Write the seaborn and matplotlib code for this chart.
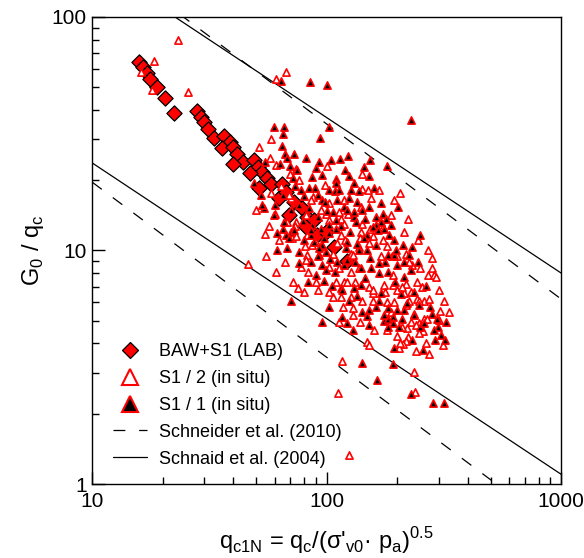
"""
G0/qc versus normalised cone resistance qc1N (log-log),
lab data, in situ data and two literature correlations.
"""

import matplotlib
matplotlib.use("Agg")
import matplotlib.pyplot as plt
from matplotlib.lines import Line2D
import seaborn as sns

# BAW+S1 (LAB)
lab_x = [15.8, 16.4, 17.1, 17.7, 18.8, 20.4, 22.4, 27.9, 29.0, 30.1, 31.3, 33.2, 36.6,
         38.5, 35.6, 40.0, 41.6, 44.1, 39.7, 49.1, 51.1, 53.2, 47.2, 55.4, 58.1, 64.7,
         51.6, 62.8, 67.3, 72.8, 69.2, 78.7, 82.6, 88.5, 81.8, 91.2, 99.5, 107.7, 122]
lab_y = [64.2, 61.1, 57.6, 54.2, 50.1, 45.0, 38.8, 39.6, 37.3, 35.5, 33.2, 30.3, 30.9,
         29.1, 27.5, 27.7, 25.9, 23.9, 23.5, 24.4, 22.8, 21.7, 21.5, 20.4, 19.3, 19.3,
         18.5, 16.8, 17.8, 16.1, 14.2, 15.2, 13.9, 13.5, 12.6, 11.6, 12.0, 10.4, 9.0]

# S1 / 2 (in situ)
s12_x = [23.3, 18.3, 16.1, 17.9, 25.5, 67, 61, 58, 51.6, 57, 74, 61, 100, 70, 142,
         54.6, 74, 71, 74, 81, 55, 86.6, 82.6, 77.6, 83.4, 46.3, 60.8, 72, 75.6, 90,
         155, 222, 115, 188, 153, 140, 173, 137, 217, 232, 251, 282, 269, 287, 191,
         127, 119, 152, 176, 191, 217, 243, 255, 214, 200, 243, 260, 273, 181, 115,
         142, 142, 113, 115, 127, 113, 129, 129, 217, 220, 228, 248, 241, 260, 267,
         258, 248, 304, 222, 217, 211, 203, 264, 149, 152, 241, 116, 236, 239, 112,
         125, 205, 293, 210, 224, 188, 236, 301, 210, 205, 117, 127, 106, 158, 158,
         110, 132, 102, 81.6, 60, 68, 90, 111, 106, 129, 152, 171, 189, 173, 142,
         123, 102, 87, 98, 140, 119, 99.5, 81.6, 70.5, 58,
         76.3, 85.9, 94.8, 73.4, 82.6, 94.8, 102.5, 120, 138.5, 158, 180, 199, 224,
         137, 122, 158, 178, 194, 228, 248, 301, 316, 332, 313, 273, 199, 180, 159,
         139, 113, 102.5, 91.5, 80.2, 66.6, 62.8, 56.9, 50, 64, 69.2, 119, 150, 167,
         194, 214, 245, 269, 280]
s12_y = [80, 65, 58, 48.7, 47.7, 58, 54, 30, 27.8, 25, 22.3, 23.2, 23, 21.3, 21.3,
         11.8, 13.3, 11.3, 11.5, 10.5, 9.5, 10.6, 9.6, 8.5, 8.1, 8.75, 8.1, 7.35, 6.9, 7.35,
         16.8, 13.6, 13.7, 14.2, 12.4, 12, 11.1, 10.4, 9.7, 8.7, 8.4, 8.4, 7.85, 7.85, 7.85,
         8.1, 7.35, 7.0, 7.1, 7.1, 7.2, 7.35, 7.0, 6.55, 6.8, 6.2, 6.1, 6.2, 6.0, 6.35,
         6.1, 18.4, 14.6, 11.7, 9.7, 8.4, 5.65, 5.3, 5.85, 4.65, 4.95, 4.9, 4.8, 5.1, 5.1,
         4.5, 4.45, 5.5, 4.27, 4.1, 3.96, 3.83, 4.0, 4.05, 3.95, 3.7, 3.37, 3.03, 2.48, 2.45,
         1.33, 17.6, 7.7, 7.0, 6.05, 5.47, 5.37, 5.04, 4.7, 4.0, 5.7, 6.35, 6.3, 6.1, 6.6,
         7.35, 7.35, 8.5, 9.1, 14.4, 13.3, 10.9, 10.75, 9.7, 9.55, 10.75, 9.45, 9.45, 12.6, 13,
         14.4, 15.9, 17, 19.1, 15.4, 13, 14.4, 14.2, 16.7, 17.6,
         20.0, 16.4, 14.9, 12.7, 11.6, 10.45, 13.5, 11.1, 11.3, 11.55, 10.45, 9.5, 8.9,
         8.4, 7.35, 6.8, 6.65, 6.0, 6.65, 6.1, 6.8, 6.1, 5.45, 3.95, 3.6, 4.3, 4.57, 4.57,
         4.95, 4.95, 6.65, 6.8, 6.65, 8.9, 11.1, 12.7, 14.9, 18.9, 17.3, 16.4, 18.2, 18.2,
         16.4, 12.0, 11.1, 10.0, 9.3]

# S1 / 1 (in situ)
s11_x = [64, 84.5, 100, 59.6, 66, 65.3, 102, 93.4, 64.5, 66.6, 72.7, 67.5, 81.6, 92.4,
         104, 70, 63.3, 90.4, 86.7, 71.5, 54.7, 95.8, 49.1, 228, 123, 114, 153, 180, 144,
         119.5, 152, 125, 131, 109, 52.5, 54.2, 59.8, 65, 61.2, 70.5, 76, 61.2, 88.5, 85.6,
         90.4, 97, 95, 99, 103.5, 92.4, 105, 70.5, 77.6, 84.3, 89.5, 102.5, 76.3, 84.3,
         100.7, 86.8, 94.4, 102.5, 67.1, 69.2, 95, 250, 201, 151, 135, 125, 119, 142, 131,
         173, 179, 171, 162, 176, 149, 184, 162, 149, 194, 182, 224, 214, 200, 167, 154,
         140, 119, 131, 171, 236, 220, 125, 108, 111, 109, 122, 122, 159, 127, 116, 122,
         142, 152, 162, 176, 182, 191, 191, 183, 152, 200, 214, 210, 203, 236, 251, 260,
         294, 298, 287, 307, 318, 194, 191, 141, 163, 228, 284, 316, 102.5, 95, 214, 176,
         115, 140, 53.1, 72.7, 85.6, 92.4, 102.5, 121, 137, 144, 178, 197, 157, 133, 95,
         109, 162, 131, 109, 91.4, 65,
         73.4, 80.2, 91.5, 98.5, 70.6, 79.4, 85.9, 97.6, 106.6, 115, 126, 134, 146, 165,
         188, 153, 167, 132, 108, 116, 146, 183, 196, 207, 228, 245, 265, 276, 167, 148,
         134, 99.5, 80.2, 66, 60.4, 74.9, 113, 137, 170, 194, 212, 232, 182, 247, 281,
         323, 290, 258, 232, 129, 111, 122, 91.5, 83.5, 76.3, 67.9]
s11_y = [53, 52.5, 51, 33.9, 33.7, 31.5, 33.9, 30.2, 28, 25.8, 25.8, 24.9, 25, 24,
         24.4, 23, 23.5, 22.5, 20.7, 20.4, 24, 21, 19.5, 36.2, 25.4, 24.6, 24.4, 23, 22.7,
         22.1, 20.9, 20.8, 19.5, 20.2, 17.3, 15.2, 14.2, 12.4, 11.85, 12, 9.85, 10, 10.9, 8.95,
         7.85, 7.4, 8.7, 8.25, 9.2, 9.6, 7.05, 6.08, 18.2, 18.5, 18.5, 18.2, 15.7, 15.2,
         14.7, 12.9, 12.4, 12.9, 11.7, 11.3, 10.6, 11.7, 15.3, 15.4, 16.2, 16.7, 15.4, 14.9, 13.9,
         14.4, 13.7, 13.2, 12.9, 12.4, 11.7, 11.7, 10.6, 10, 9.6, 9.6, 9.6, 8.95, 8.7, 8, 8.4,
         8.4, 8.7, 6.9, 6.55, 6.65, 5.95, 6.05, 17.9, 16.4, 12.4, 10.9, 9.1, 18.5, 18.2, 5.2, 4.9,
         5.47, 5.56, 5.7, 4.98, 5.1, 5.2, 4.88, 4.7, 4.82, 5.56, 5.56, 5.1, 4.68, 5.3, 4.7, 4.9,
         5.1, 4.7, 4.57, 4.35, 4.14, 3.83, 3.28, 3.3, 2.8, 2.43, 2.23, 2.23, 5.75, 4.95, 7.7, 5.3,
         6.9, 7.1, 15.7, 12.2, 11.7, 10.2, 11.85, 10.2, 10, 11.3, 8.95, 10, 12.6, 13.2, 16.4,
         19.4, 13.9, 14.6, 13.5, 13.9, 17.3,
         18.9, 17.1, 17.3, 16.1, 14.9, 13.4, 12.2, 11.3, 14.6, 12.7, 12.0, 10.7, 13.6, 12.2,
         12.9, 9.3, 8.8, 8.9, 8.1, 6.8, 7.6, 8.1, 7.35, 6.5, 8.25, 8.9, 7.05, 5.75, 6.1, 5.25,
         6.4, 9.85, 11.1, 13.3, 15.7, 22.1, 18.2, 17.9, 16.0, 11.1, 10.6, 10.3, 5.67, 5.85, 5.35,
         4.95, 4.14, 3.75, 4.14, 4.57, 8.9, 14.9, 9.5, 7.35, 8.8, 10.2]

# correlation lines, end points at qc1N = 10 and 1000
line_x = [10, 1000]
schneider_upper = [195.6, 6.19]
schneider_lower = [19.6, 0.62]
schnaid_upper = [171.7, 8.0]
schnaid_lower = [23.7, 1.1]

sns.set_style("ticks")
plt.rcParams['font.family'] = ['Liberation Sans', 'DejaVu Sans']
plt.rcParams['mathtext.fontset'] = 'custom'
plt.rcParams['mathtext.rm'] = 'Liberation Sans'
for key in ('text.color', 'axes.labelcolor', 'xtick.color', 'ytick.color'):
    plt.rcParams[key] = 'black'

fig = plt.figure(figsize=(5.84, 5.58), dpi=100)
ax = fig.add_axes([0.158, 0.1326, 0.803, 0.837])

dash = (0, (9.5, 11))
for ys in (schneider_upper, schneider_lower):
    sns.lineplot(x=line_x, y=ys, color='black', lw=0.9, linestyle=dash, ax=ax)
for ys in (schnaid_upper, schnaid_lower):
    sns.lineplot(x=line_x, y=ys, color='black', lw=0.9, ax=ax)

sns.scatterplot(x=lab_x, y=lab_y, marker='D', s=60, color='red',
                edgecolor='black', linewidth=0.9, ax=ax, zorder=3)
sns.scatterplot(x=s12_x, y=s12_y, marker='^', s=27, facecolor='white',
                edgecolor='red', linewidth=1.2, ax=ax, zorder=4)
sns.scatterplot(x=s11_x, y=s11_y, marker='^', s=27, color='black',
                edgecolor='red', linewidth=1.2, ax=ax, zorder=5)

ax.set_xscale('log')
ax.set_yscale('log')
ax.set_xlim(10, 1000)
ax.set_ylim(1, 100)
ax.set_xticks([10, 100, 1000])
ax.set_xticklabels(['10', '100', '1000'])
ax.set_yticks([1, 10, 100])
ax.set_yticklabels(['1', '10', '100'])

ax.tick_params(which='both', direction='in', top=False, right=False,
               labelsize=15, width=1, color='black')
ax.tick_params(which='major', length=9)
ax.tick_params(axis='x', which='major', pad=6)
ax.tick_params(axis='y', which='major', pad=4)
ax.tick_params(which='minor', length=5)
for sp in ax.spines.values():
    sp.set_linewidth(1.0)
    sp.set_color('black')

ax.set_xlabel(r"q$_\mathregular{c1N}$ = q$_\mathregular{c}$/(σ'$_\mathregular{v0}$· "
              r"p$_\mathregular{a}$)$^\mathregular{0.5}$", fontsize=17, labelpad=10)
ax.set_ylabel(r"G$_\mathregular{0}$ / q$_\mathregular{c}$", fontsize=17, labelpad=4)

handles = [
    Line2D([], [], ls='none', marker='D', ms=8.5, mfc='red', mec='black', mew=0.9),
    Line2D([], [], ls='none', marker='^', ms=11, mfc='white', mec='red', mew=1.5),
    Line2D([], [], ls='none', marker='^', ms=11, mfc='black', mec='red', mew=1.5),
    Line2D([], [], color='black', lw=0.9, ls=(0, (9.5, 11))),
    Line2D([], [], color='black', lw=0.9),
]
labels = ['BAW+S1 (LAB)', 'S1 / 2 (in situ)', 'S1 / 1 (in situ)',
          'Schneider et al. (2010)', 'Schnaid et al. (2004)']
ax.legend(handles, labels, loc='upper left', bbox_to_anchor=(0.045, 0.302),
          frameon=False, fontsize=13, handlelength=1.85, handletextpad=0.7,
          labelspacing=0.55, borderpad=0, borderaxespad=0)

fig.savefig('out.png', dpi=100)
